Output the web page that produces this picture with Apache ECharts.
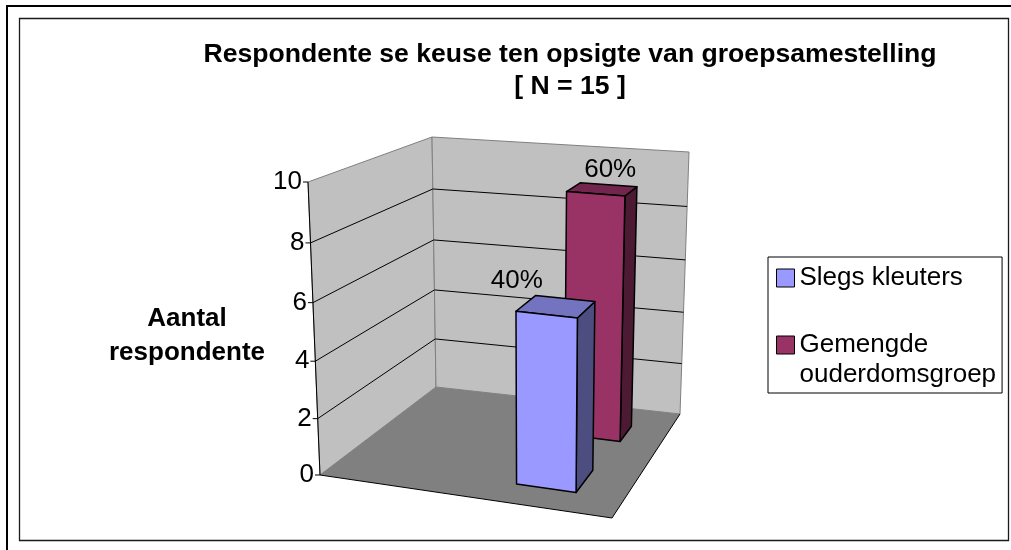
<!DOCTYPE html>
<html>
<head>
<meta charset="utf-8">
<title>Respondente se keuse</title>
<script src="https://cdn.jsdelivr.net/npm/echarts@6/dist/echarts.min.js"></script>
<style>
html,body{margin:0;padding:0;background:#fff;}
#chart{width:1011px;height:550px;}
</style>
</head>
<body>
<div id="chart"></div>
<script>
// data
var seriesNames = ['Slegs kleuters', 'Gemengde ouderdomsgroep'];
var counts = [6, 9];
var percentLabels = ['40%', '60%'];
var yTicks = [0, 2, 4, 6, 8, 10];
var titleText = 'Respondente se keuse ten opsigte van groepsamestelling\n[ N = 15 ]';
var axisTitle = 'Aantal\nrespondente';

var FONT = "'Liberation Sans', Arial, sans-serif";

var COLOR = {
	WALL: '#C0C0C0',
	WALL_EDGE: '#808080',
	FLOOR: '#808080',
	BAR: [
		{front: '#9999FF', top: '#7373BF', side: '#4D4D80'},
		{front: '#993366', top: '#73264D', side: '#4D1A33'}
	]
};

// screen corners of the 3d box (floor and value-max level)
var FLOOR = {fl: [320, 475], fr: [612, 518], bl: [436, 387], br: [680, 414]};
var ROOF  = {fl: [308, 182], fr: [616, 211], bl: [432, 137], br: [689, 152]};
var PERSP = 0.05;   // slight foreshortening of the height

// footprint of every column: u = across, w = into depth (0..1)
var BAR_BOX = [
	{u0: 0.62, u1: 0.83, w0: 0.18, w1: 0.40},
	{u0: 0.635, u1: 0.85, w0: 0.69, w1: 0.84}
];
var LABEL_SHIFT = [[-19, -15], [30, -13]];

function bilin(c, u, w, i){
	return c.fl[i] + u * (c.fr[i] - c.fl[i]) + w * (c.bl[i] - c.fl[i]) + u * w * (c.fl[i] - c.fr[i] - c.bl[i] + c.br[i]);
}

function proj(u, t, w){
	var bx = bilin(FLOOR, u, w, 0), by = bilin(FLOOR, u, w, 1);
	var rx = bilin(ROOF, u, w, 0), ry = bilin(ROOF, u, w, 1);
	var f = t / (1 + PERSP * (1 - t));
	return [bx + f * (rx - bx), by + f * (ry - by)];
}

function valueToT(api, v){
	var y0 = api.coord([0, yTicks[0]])[1];
	var y1 = api.coord([0, yTicks[yTicks.length - 1]])[1];
	return (y0 - api.coord([0, v])[1]) / (y0 - y1);
}

function renderWalls(params, api){
	var kids = [];
	kids.push({type: 'polygon', shape: {points: [proj(0,0,0), proj(0,1,0), proj(0,1,1), proj(0,0,1)]},
		style: {fill: COLOR.WALL, stroke: COLOR.WALL_EDGE, lineWidth: 1}});
	kids.push({type: 'polygon', shape: {points: [proj(0,0,1), proj(0,1,1), proj(1,1,1), proj(1,0,1)]},
		style: {fill: COLOR.WALL, stroke: COLOR.WALL_EDGE, lineWidth: 1}});
	kids.push({type: 'polygon', shape: {points: [proj(0,0,0), proj(1,0,0), proj(1,0,1), proj(0,0,1)]},
		style: {fill: COLOR.FLOOR}});

	for (var i = 0; i < yTicks.length; i++){
		var t = valueToT(api, yTicks[i]);
		if (i > 0 && i < yTicks.length - 1){
			kids.push({type: 'polyline', shape: {points: [proj(0,t,0), proj(0,t,1), proj(1,t,1)]},
				style: {fill: 'none', stroke: '#000', lineWidth: 1}});
		}
		var p = proj(0, t, 0);
		kids.push({type: 'line', shape: {x1: p[0] - 5, y1: p[1], x2: p[0], y2: p[1]},
			style: {stroke: '#000', lineWidth: 1}});
		kids.push({type: 'text', style: {text: String(yTicks[i]), x: p[0] - 6, y: p[1],
			align: 'right', verticalAlign: 'middle', fontSize: 26, fontFamily: FONT, fill: '#000'}});
	}
	// floor front + right edge, value axis
	kids.push({type: 'polyline', shape: {points: [proj(0,0,0), proj(1,0,0), proj(1,0,1)]},
		style: {fill: 'none', stroke: '#000', lineWidth: 1}});
	var a0 = proj(0,0,0), a1 = proj(0,1,0);
	kids.push({type: 'line', shape: {x1: a0[0], y1: a0[1], x2: a1[0], y2: a1[1]},
		style: {stroke: '#000', lineWidth: 1}});
	return {type: 'group', children: kids};
}

function makeBarRenderer(k){
	return function(params, api){
		var t = valueToT(api, api.value(1));
		var b = BAR_BOX[k], c = COLOR.BAR[k];
		var edge = {stroke: '#000', lineWidth: 1.5, lineJoin: 'round'};
		var front = [proj(b.u0,0,b.w0), proj(b.u1,0,b.w0), proj(b.u1,t,b.w0), proj(b.u0,t,b.w0)];
		var side  = [proj(b.u1,0,b.w0), proj(b.u1,0,b.w1), proj(b.u1,t,b.w1), proj(b.u1,t,b.w0)];
		var top   = [proj(b.u0,t,b.w0), proj(b.u1,t,b.w0), proj(b.u1,t,b.w1), proj(b.u0,t,b.w1)];
		var anchor = proj(b.u0, t, b.w1);
		return {type: 'group', children: [
			{type: 'polygon', shape: {points: side}, style: echarts.util.extend({fill: c.side}, edge)},
			{type: 'polygon', shape: {points: top}, style: echarts.util.extend({fill: c.top}, edge)},
			{type: 'polygon', shape: {points: front}, style: echarts.util.extend({fill: c.front}, edge)},
			{type: 'text', style: {text: percentLabels[k], x: anchor[0] + LABEL_SHIFT[k][0], y: anchor[1] + LABEL_SHIFT[k][1],
				align: 'center', verticalAlign: 'middle', fontSize: 26, fontFamily: FONT, fill: '#000'}}
		]};
	};
}

var series = [{
	type: 'custom',
	silent: true,
	z: 1,
	renderItem: renderWalls,
	data: [[0, 0]]
}];
// back row first so the front column covers it
for (var k = seriesNames.length - 1; k >= 0; k--){
	series.push({
		name: seriesNames[k],
		type: 'custom',
		z: 2 + (seriesNames.length - k),
		itemStyle: {color: COLOR.BAR[k].front, borderColor: '#000', borderWidth: 1},
		renderItem: makeBarRenderer(k),
		data: [[0, counts[k]]]
	});
}

var myChart = echarts.init(document.getElementById('chart'));
myChart.setOption({
	backgroundColor: '#fff',
	animation: false,
	title: {
		text: titleText,
		left: 570,
		top: 39,
		padding: 0,
		textAlign: 'center',
		textStyle: {fontSize: 26.6, fontWeight: 'bold', fontFamily: FONT, color: '#000', lineHeight: 32}
	},
	legend: {
		orient: 'vertical',
		left: 768,
		top: 257,
		padding: [6, 6, 3, 8],
		itemGap: 7,
		itemWidth: 18,
		itemHeight: 18,
		icon: 'rect',
		borderColor: '#000',
		borderWidth: 1,
		itemStyle: {borderColor: '#000', borderWidth: 1},
		textStyle: {fontSize: 26, fontFamily: FONT, color: '#000', lineHeight: 30},
		// long name wraps; blank first line keeps the swatch beside the first word
		formatter: function(name){
			return name.length > 16 ? '\n' + name.replace(' ', '\n') : name;
		},
		data: seriesNames
	},
	grid: {left: 320, top: 182, width: 292, height: 293, show: false},
	xAxis: {type: 'value', min: 0, max: 1, show: false},
	yAxis: {type: 'value', min: 0, max: 10, interval: 2, show: false},
	graphic: [
		{type: 'rect', shape: {x: 7, y: 6, width: 1100, height: 1000}, style: {fill: 'none', stroke: '#000', lineWidth: 2}, z: 0},
		{type: 'rect', shape: {x: 19.5, y: 18.5, width: 989, height: 522}, style: {fill: 'none', stroke: '#1a1a1a', lineWidth: 1.3}, z: 0},
		{type: 'text', x: 187, y: 336, style: {text: axisTitle, align: 'center', verticalAlign: 'middle',
			fontSize: 26, fontWeight: 'bold', fontFamily: FONT, fill: '#000', lineHeight: 34}}
	],
	series: series
});
</script>
</body>
</html>
